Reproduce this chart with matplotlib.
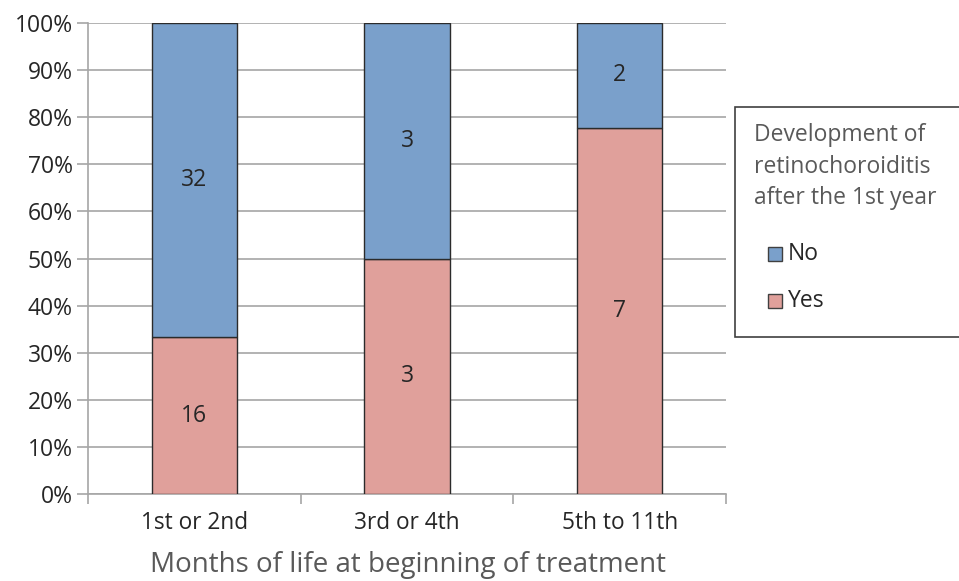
import matplotlib
matplotlib.use("Agg")
import matplotlib.pyplot as plt
from matplotlib.patches import Rectangle
import numpy as np

plt.rcParams['font.family'] = ['Open Sans', 'DejaVu Sans']

categories = ["1st or 2nd", "3rd or 4th", "5th to 11th"]
yes_counts = [16, 3, 7]
no_counts = [32, 3, 2]
y_ticks = [0, 10, 20, 30, 40, 50, 60, 70, 80, 90, 100]
y_tick_labels = ["0%", "10%", "20%", "30%", "40%", "50%", "60%", "70%", "80%", "90%", "100%"]

blue = "#7aa0cb"
pink = "#e0a09b"
grid_c = "#a6a6a6"
text_c = "#262626"
W, H = 959, 581

fig = plt.figure(figsize=(W / 100, H / 100), dpi=100)
ax = fig.add_axes([88 / W, (H - 494) / H, (726 - 88) / W, (494 - 23) / H])

yes = np.array(yes_counts, dtype=float)
no = np.array(no_counts, dtype=float)
total = yes + no
yes_pct = yes / total * 100
no_pct = no / total * 100
x = np.arange(len(categories))

ax.bar(x, yes_pct, width=0.4, color=pink, edgecolor="#2b2b2b", linewidth=1.0, zorder=3)
ax.bar(x, no_pct, width=0.4, bottom=yes_pct, color=blue, edgecolor="#2b2b2b", linewidth=1.0, zorder=3)

for i in range(len(categories)):
    ax.text(x[i], yes_pct[i] / 2, str(yes_counts[i]), ha="center", va="center",
            fontsize=16.5, color=text_c, zorder=4)
    ax.text(x[i], yes_pct[i] + no_pct[i] / 2, str(no_counts[i]), ha="center", va="center",
            fontsize=16.5, color=text_c, zorder=4)

ax.set_xlim(-0.5, len(categories) - 0.5)
ax.set_ylim(0, 100)
ax.set_yticks(y_ticks)
ax.set_yticklabels(y_tick_labels, fontsize=16.5, color=text_c)
ax.set_xticks(x)
ax.set_xticklabels(categories, fontsize=16.3, color=text_c)
ax.set_xticks(np.arange(-0.5, len(categories)), minor=True)
ax.tick_params(axis="x", which="major", length=0, pad=12)
ax.tick_params(axis="x", which="minor", length=7, color=grid_c, width=1.2)
ax.tick_params(axis="y", length=8, color=grid_c, width=1.2, pad=3)
ax.yaxis.grid(True, color=grid_c, linewidth=1.2, zorder=0)
ax.set_axisbelow(True)
for s in ["top", "right"]:
    ax.spines[s].set_visible(False)
for s in ["left", "bottom"]:
    ax.spines[s].set_color(grid_c)
    ax.spines[s].set_linewidth(1.2)

fig.text(408 / W, 1 - 565 / H, "Months of life at beginning of treatment",
         ha="center", va="center", fontsize=20, color="#595959")

# Legend box
def fx(px):
    return px / W

def fy(py):
    return 1 - py / H

fig.patches.append(Rectangle((fx(735), fy(337)), fx(970) - fx(735), fy(107) - fy(337),
                             transform=fig.transFigure, facecolor="white",
                             edgecolor="#404040", linewidth=1.2))
for line, yy in zip(["Development of", "retinochoroiditis", "after the 1st year"], [135, 167, 198]):
    fig.text(fx(754), fy(yy), line, ha="left", va="center", fontsize=16.5, color="#595959")

for label, color, yy in [("No", blue, 254), ("Yes", pink, 301)]:
    fig.patches.append(Rectangle((fx(768), fy(yy + 7)), fx(14), 14 / H,
                                 transform=fig.transFigure, facecolor=color,
                                 edgecolor="#404040", linewidth=1.0))
    fig.text(fx(788), fy(yy), label, ha="left", va="center", fontsize=16.5, color=text_c)

fig.savefig("out.png", dpi=100)
